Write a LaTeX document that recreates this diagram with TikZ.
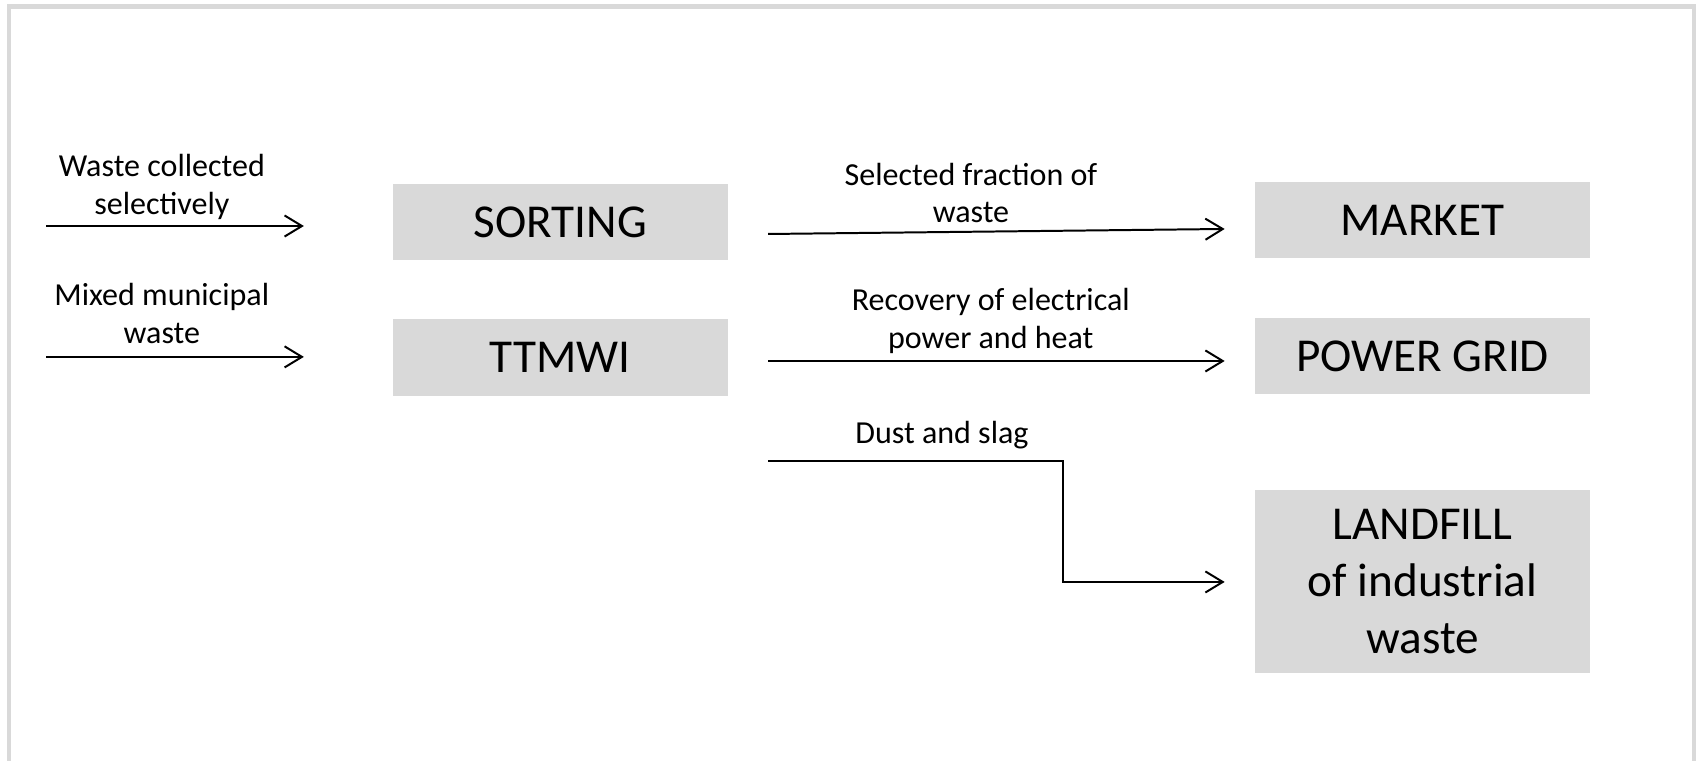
\documentclass[tikz,border=0pt]{standalone}
\usepackage{fontspec}
\setmainfont{Carlito}
\usetikzlibrary{arrows.meta}

\begin{document}
\begin{tikzpicture}[box/.style={fill=boxgray, minimum width=4.74cm, minimum height=1.08cm, inner sep=0pt, align=center, font=\fontsize{19}{23}\selectfont},
    lbl/.style={align=center, font=\fontsize{12.9}{15}\selectfont},
    flow/.style={-{Straight Barb[length=7pt,width=8.5pt]}, line width=0.8pt}]
    \definecolor{boxgray}{HTML}{D9D9D9}
    \useasboundingbox (0,0) rectangle (24,-10.755);
    % frame
    \draw[boxgray, line width=1.8pt] (0.127,-10.8) -- (0.127,-0.092) -- (23.97,-0.092) -- (23.97,-10.8);
    % boxes
    \node[box] (sort) at (7.93,-3.141) {SORTING};
    \node[box] (ttmwi) at (7.93,-5.059) {TTMWI};
    \node[box] (market) at (20.13,-3.113) {MARKET};
    \node[box] (grid) at (20.13,-5.037) {POWER GRID};
    \node[box, minimum height=2.59cm] (landfill) at (20.13,-8.228) {LANDFILL\\of industrial\\waste};
    % inputs
    \coordinate (in1) at (0.658,-3.198);
    \coordinate (in1e) at (4.30,-3.198);
    \coordinate (in2) at (0.658,-5.05);
    \coordinate (in2e) at (4.30,-5.05);
    \node[lbl] (lin1) at (2.29,-2.645) {Waste collected\\selectively};
    \node[lbl] (lin2) at (2.29,-4.435) {Mixed municipal\\waste};
    \draw[flow] (in1) -- (in1e);
    \draw[flow] (in2) -- (in2e);
    % outputs
    \coordinate (out1) at (10.87,-3.311);
    \coordinate (out1e) at (17.33,-3.24);
    \coordinate (out2) at (10.87,-5.108);
    \coordinate (out2e) at (17.33,-5.108);
    \coordinate (out3) at (10.87,-6.523);
    \coordinate (bend) at (15.04,-6.523);
    \coordinate (out3e) at (17.33,-8.235);
    \node[lbl] (lout1) at (13.74,-2.73) {Selected fraction of\\waste};
    \node[lbl] (lout2) at (14.02,-4.54) {Recovery of electrical\\power and heat};
    \node[lbl] (lout3) at (13.33,-6.155) {Dust and slag};
    \draw[flow] (out1) -- (out1e);
    \draw[flow] (out2) -- (out2e);
    \draw[flow] (out3) -- (bend) |- (out3e);
\end{tikzpicture}
\end{document}
